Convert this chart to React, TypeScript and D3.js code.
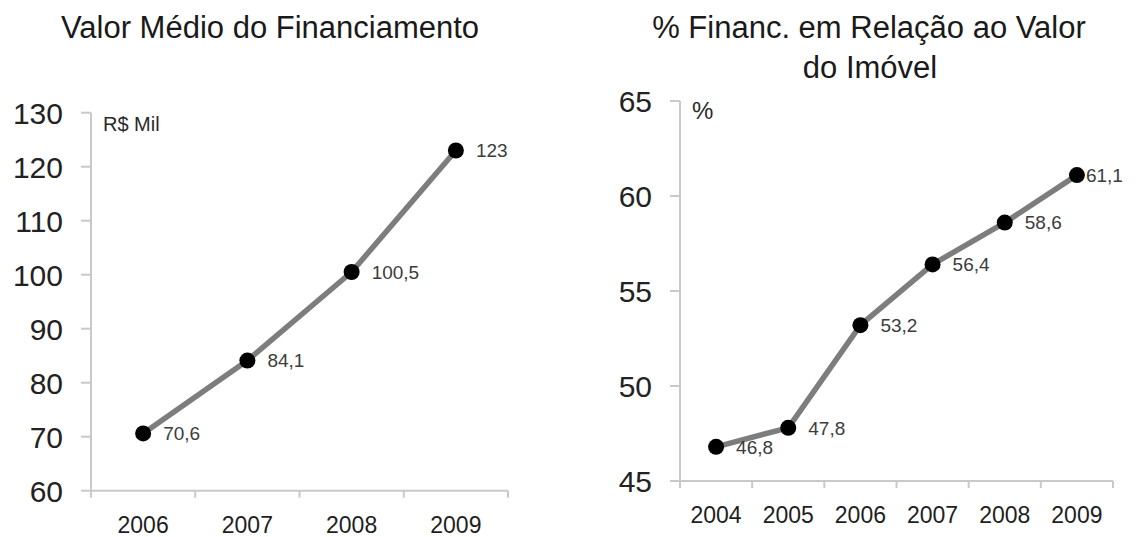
import React from "react";
import * as d3 from "d3";

// Average financing value (R$ thousand)
const valorYears = ["2006", "2007", "2008", "2009"];
const valorMedio = [70.6, 84.1, 100.5, 123];
const valorTicks = [60, 70, 80, 90, 100, 110, 120, 130];
const valorLabels = ["70,6", "84,1", "100,5", "123"];

// Financing as % of property value
const pctYears = ["2004", "2005", "2006", "2007", "2008", "2009"];
const pctFinanc = [46.8, 47.8, 53.2, 56.4, 58.6, 61.1];
const pctTicks = [45, 50, 55, 60, 65];
const pctLabels = ["46,8", "47,8", "53,2", "56,4", "58,6", "61,1"];

const FONT = "Arial, 'Liberation Sans', Helvetica, sans-serif";
const AXIS = "#c9c9c9";
const LINE = "#7d7d7d";

type PanelProps = {
  years: string[];
  values: number[];
  labels: string[];
  ticks: number[];
  left: number;
  right: number;
  top: number;
  bottom: number;
  unit: string;
  unitX: number;
  unitY: number;
  unitSize: number;
  lastDx: number;
};

function Panel(p: PanelProps) {
  const x = d3.scaleBand<string>().domain(p.years).range([p.left, p.right]).padding(0);
  const y = d3
    .scaleLinear()
    .domain([p.ticks[0], p.ticks[p.ticks.length - 1]])
    .range([p.bottom, p.top]);
  const cx = (d: string) => (x(d) ?? 0) + x.bandwidth() / 2;
  const line = d3
    .line<number>()
    .x((_, i) => cx(p.years[i]))
    .y((v) => y(v));
  const edges = [...p.years.map((d) => x(d) ?? 0), p.right];
  const last = p.values.length - 1;

  return (
    <g>
      {/* y axis */}
      <line x1={p.left} x2={p.left} y1={p.top} y2={p.bottom} stroke={AXIS} strokeWidth={2} />
      {p.ticks.map((t) => (
        <g key={t}>
          <line x1={p.left - 10} x2={p.left} y1={y(t)} y2={y(t)} stroke={AXIS} strokeWidth={2} />
          <text
            x={p.left - 28}
            y={y(t)}
            dy="0.36em"
            textAnchor="end"
            fontSize={30}
            fill="#222"
            fontFamily={FONT}
          >
            {t}
          </text>
        </g>
      ))}
      {/* x axis */}
      <line x1={p.left} x2={p.right} y1={p.bottom} y2={p.bottom} stroke={AXIS} strokeWidth={2} />
      {edges.map((e, i) => (
        <line key={i} x1={e} x2={e} y1={p.bottom} y2={p.bottom + 7} stroke={AXIS} strokeWidth={2} />
      ))}
      {p.years.map((d) => (
        <text
          key={d}
          x={cx(d)}
          y={p.bottom + 42}
          textAnchor="middle"
          fontSize={23}
          fill="#1e1e1e"
          fontFamily={FONT}
        >
          {d}
        </text>
      ))}
      <text x={p.unitX} y={p.unitY} fontSize={p.unitSize} fill="#2a2a2a" fontFamily={FONT}>
        {p.unit}
      </text>
      {/* series */}
      <path d={line(p.values) ?? ""} fill="none" stroke={LINE} strokeWidth={5.5} strokeLinejoin="round" />
      {p.values.map((v, i) => (
        <circle key={i} cx={cx(p.years[i])} cy={y(v)} r={8} fill="#000" />
      ))}
      {p.values.map((v, i) => (
        <text
          key={i}
          x={cx(p.years[i]) + (i === last ? p.lastDx : 20)}
          y={y(v)}
          dy="0.36em"
          fontSize={19}
          fill="#3c3c3c"
          fontFamily={FONT}
        >
          {p.labels[i]}
        </text>
      ))}
    </g>
  );
}

export default function App() {
  return (
    <svg
      width={1146}
      height={537}
      style={{ position: "fixed", left: 0, top: 0, background: "#fff" }}
    >
      <rect width={1146} height={537} fill="#fff" />
      <text x={270} y={38} textAnchor="middle" fontSize={31} fill="#1a1a1a" fontFamily={FONT}>
        Valor Médio do Financiamento
      </text>
      <text x={869} y={38} textAnchor="middle" fontSize={31} fill="#1a1a1a" fontFamily={FONT}>
        % Financ. em Relação ao Valor
      </text>
      <text x={870} y={78} textAnchor="middle" fontSize={31} fill="#1a1a1a" fontFamily={FONT}>
        do Imóvel
      </text>
      <Panel
        years={valorYears}
        values={valorMedio}
        labels={valorLabels}
        ticks={valorTicks}
        left={91}
        right={508}
        top={112.7}
        bottom={490.7}
        unit="R$ Mil"
        unitX={103}
        unitY={131}
        unitSize={20}
        lastDx={20}
      />
      <Panel
        years={pctYears}
        values={pctFinanc}
        labels={pctLabels}
        ticks={pctTicks}
        left={680}
        right={1113}
        top={101}
        bottom={481}
        unit="%"
        unitX={692}
        unitY={119}
        unitSize={24}
        lastDx={9}
      />
    </svg>
  );
}
